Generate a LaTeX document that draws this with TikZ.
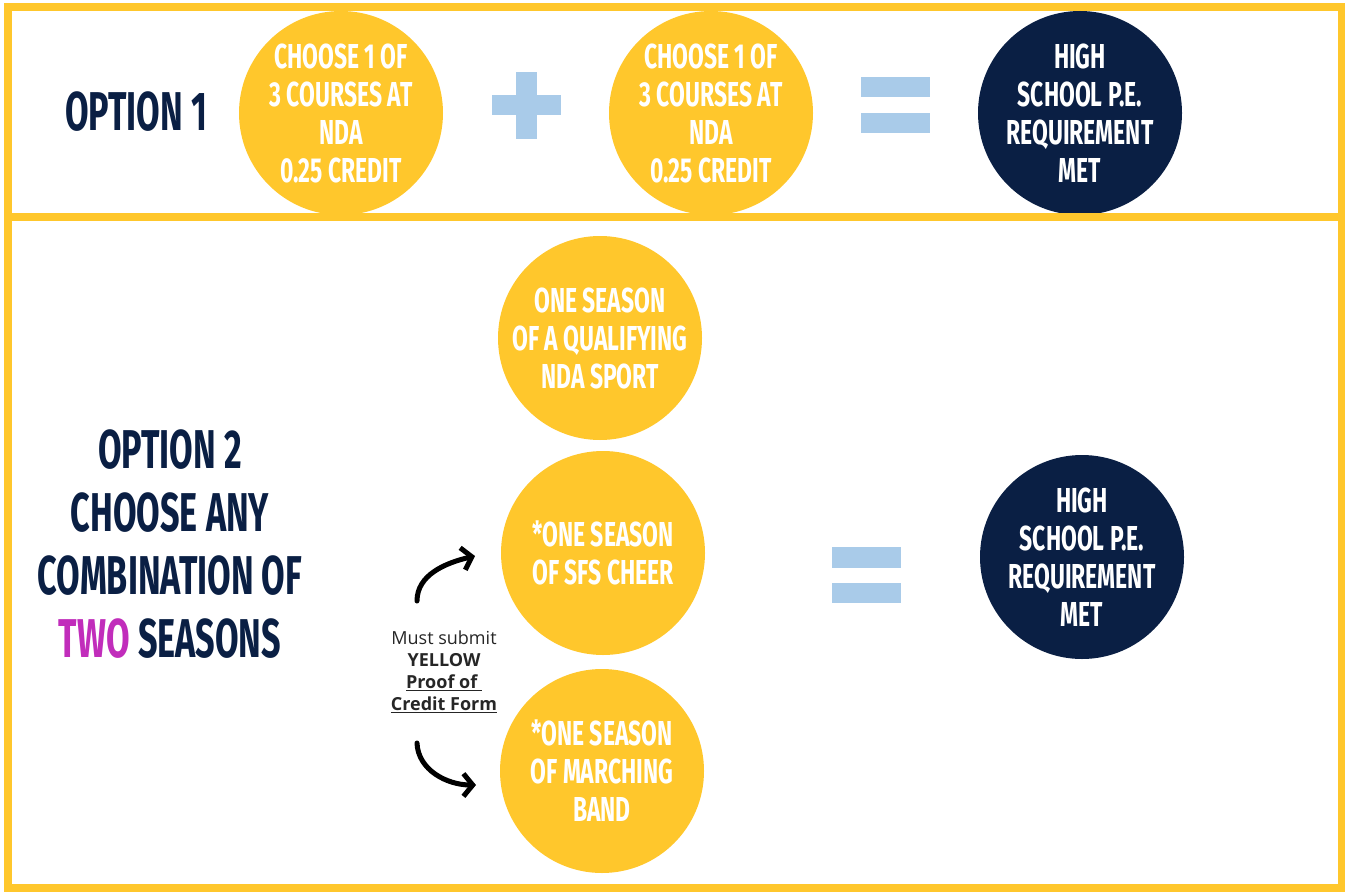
\documentclass[tikz,border=0pt]{standalone}
\usepackage{fontspec}
\usepackage{tikz}
\usetikzlibrary{arrows.meta}
\newfontfamily\bebas[FakeStretch=0.66]{Fira Sans}
\newfontfamily\bebashead[FakeStretch=0.625]{Fira Sans}
\newfontfamily\opensans{Open Sans}
\definecolor{gold}{HTML}{FFC72C}
\definecolor{navy}{HTML}{0A1F44}
\definecolor{skyblue}{HTML}{A9CBE9}
\definecolor{orchid}{HTML}{C12DBB}
\tikzset{
  frame/.style={draw=gold, line width=6pt},
  coin/.style={circle, fill=gold, minimum size=153pt, inner sep=0pt, text=white,
    font=\bebas\bfseries\fontsize{26}{28.5}\selectfont, align=center},
  goal/.style={coin, fill=navy},
  bar/.style={fill=skyblue},
  head/.style={text=navy, font=\bebashead\bfseries\fontsize{41}{47.25}\selectfont, align=center},
  note/.style={text=black!85, font=\opensans\fontsize{13.5}{16.5}\selectfont, align=center},
  curvearrow/.style={draw=black, line width=3.75pt, line cap=round,
    -{Straight Barb[length=7pt,width=17pt]}}
}

\begin{document}
\begin{tikzpicture}[x=0.75pt, y=-0.75pt]
  \useasboundingbox[fill=white] (0,0) rectangle (1345,892);

  % option 1
  \draw[frame] (8,7) rectangle (1342,217);
  \node[head] (opt1) at (136,112) {OPTION 1};
  \node[coin] (courseA) at (341,113) {CHOOSE 1 OF\\3 COURSES AT\\NDA\\0.25 CREDIT};
  \node[coin] (courseB) at (711,113) {CHOOSE 1 OF\\3 COURSES AT\\NDA\\0.25 CREDIT};
  \node[goal] (metA) at (1080,113) {HIGH\\SCHOOL P.E.\\REQUIREMENT\\MET};
  \fill[bar] (492,95) rectangle (561,115);
  \fill[bar] (516,72) rectangle (537,139);
  \fill[bar] (861,77) rectangle (930,97);
  \fill[bar] (861,113) rectangle (930,133);

  % option 2
  \draw[frame] (8,217) rectangle (1342,888);
  \node[head] (opt2) at (170,544) {OPTION 2\\CHOOSE ANY\\COMBINATION OF\\{\color{orchid}TWO} SEASONS};
  \node[coin] (sport) at (600,338) {ONE SEASON\\OF A QUALIFYING\\NDA SPORT};
  \node[coin] (cheer) at (603,553) {*ONE SEASON\\OF SFS CHEER};
  \node[coin] (band) at (602,771) {*ONE SEASON\\OF MARCHING\\BAND};
  \node[goal] (metB) at (1082,557) {HIGH\\SCHOOL P.E.\\REQUIREMENT\\MET};
  \fill[bar] (832,547) rectangle (901,568);
  \fill[bar] (832,583) rectangle (901,603);

  \node[note] (form) at (444,672) {Must submit\\\textbf{YELLOW}\\\textbf{\underline{Proof of\ }}\\\textbf{\underline{Credit Form}}};
  \coordinate (upfrom) at (417,601);
  \coordinate (upto) at (475,556);
  \coordinate (downfrom) at (417,743);
  \coordinate (downto) at (476,785);
  \draw[curvearrow] (upfrom) .. controls (417,575) and (445,563) .. (upto);
  \draw[curvearrow] (downfrom) .. controls (418,770) and (447,785) .. (downto);
\end{tikzpicture}
\end{document}
